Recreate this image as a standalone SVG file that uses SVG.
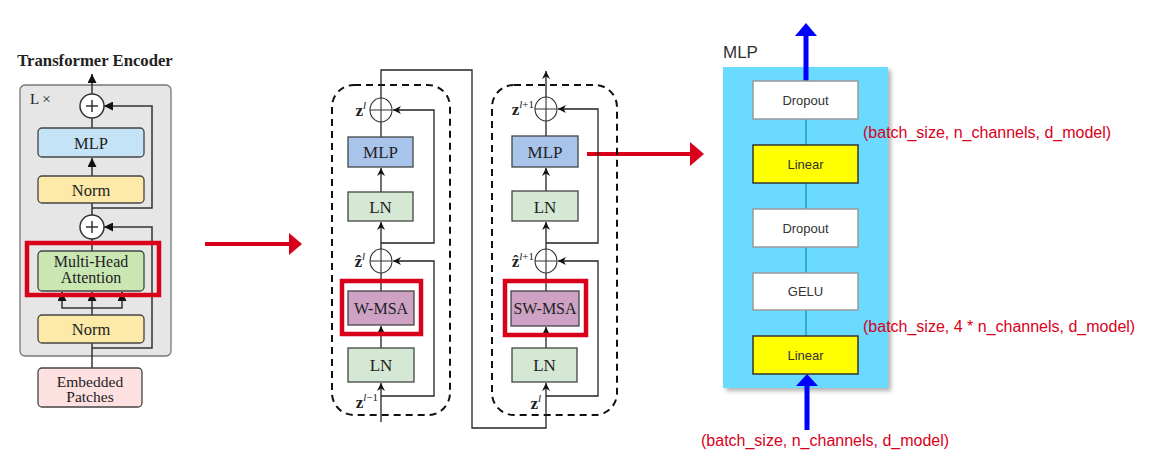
<svg xmlns="http://www.w3.org/2000/svg" width="1154" height="468" viewBox="0 0 1154 468">
<style>
.serif{font-family:"Liberation Serif","Times New Roman",serif;fill:#222}
.sans{font-family:"Liberation Sans",Arial,sans-serif}
.ln{stroke:#333;stroke-width:1.5;fill:none}
.lnm{stroke:#222;stroke-width:1.3;fill:none}
.box{stroke:#444;stroke-width:1.3}
.red{stroke:#d9001b;stroke-width:4.5;fill:none}
.plus{fill:#fff;stroke:#333;stroke-width:1.5}
.oplus{fill:none;stroke:#333;stroke-width:1.1}
.lbl{font-family:"Liberation Serif","Times New Roman",serif;font-weight:bold;font-size:17px;fill:#222}
.sup{font-weight:normal;font-size:11px}
.mb{stroke:#999;stroke-width:1.5;fill:#fff}
.my{stroke:#333;stroke-width:1.5;fill:#ffff00}
.mt{font-family:"Liberation Sans",Arial,sans-serif;font-size:13px;fill:#333;text-anchor:middle}
.rt{font-family:"Liberation Sans",Arial,sans-serif;font-size:16px;fill:#d9001b}
</style>
<defs>
<marker id="ah" viewBox="0 0 10 10" refX="10" refY="5" markerWidth="8" markerHeight="8" markerUnits="userSpaceOnUse" orient="auto">
<path d="M0,0 L10,5 L0,10 L3,5 Z" fill="#111"/>
</marker>
<marker id="ahr" viewBox="0 0 10 10" refX="10" refY="5" markerWidth="9" markerHeight="9" markerUnits="userSpaceOnUse" orient="auto">
<path d="M0,0 L10,5 L0,10 Z" fill="#111"/>
</marker>
<filter id="sh" x="-5%" y="-5%" width="115%" height="115%">
<feDropShadow dx="3" dy="3" stdDeviation="2" flood-color="#000" flood-opacity="0.3"/>
</filter>
</defs>

<!-- LEFT PANEL: Transformer Encoder -->
<g id="encoder">
<text class="serif" x="95" y="66" font-size="16.700" font-weight="bold" text-anchor="middle">Transformer Encoder</text>
<rect x="20" y="85" width="151" height="271" rx="5" fill="#e6e6e6" stroke="#777" stroke-width="1.3"/>
<text class="serif" x="30" y="104" font-size="15">L ×</text>
</g>
<g id="enc-connectors">
<line class="ln" x1="92" y1="94" x2="92" y2="74" marker-end="url(#ahr)"/>
<path class="ln" d="M92,208 H152 V106 H104" marker-end="url(#ahr)"/>
<path class="ln" d="M92,348 H152 V227 H104" marker-end="url(#ahr)"/>
<line class="ln" x1="92" y1="118" x2="92" y2="128"/>
<line class="ln" x1="92" y1="176" x2="92" y2="158" marker-end="url(#ahr)"/>
<line class="ln" x1="92" y1="203" x2="92" y2="215"/>
<line class="ln" x1="92" y1="239" x2="92" y2="251"/>
<line class="ln" x1="92" y1="315" x2="92" y2="292" marker-end="url(#ahr)"/>
<path class="ln" d="M62,292 V308 H122 V292"/>
<line class="ln" x1="62" y1="300" x2="62" y2="292" marker-end="url(#ahr)"/>
<line class="ln" x1="122" y1="300" x2="122" y2="292" marker-end="url(#ahr)"/>
<line class="ln" x1="92" y1="343" x2="92" y2="368"/>
</g>
<g id="enc-plus1">
<circle class="plus" cx="92" cy="106" r="12"/>
<path class="ln" d="M86,106 H98 M92,100 V112"/>
</g>
<g id="enc-mlp">
<rect class="box" x="38" y="128" width="106" height="29" rx="4" fill="#c5e3f6"/>
<text class="serif" x="91" y="148.500" font-size="16.500" text-anchor="middle">MLP</text>
</g>
<g id="enc-norm1">
<rect class="box" x="38" y="176" width="106" height="27" rx="4" fill="#fde9a8"/>
<text class="serif" x="91" y="195.500" font-size="16.500" text-anchor="middle">Norm</text>
</g>
<g id="enc-plus2">
<circle class="plus" cx="92" cy="227" r="12"/>
<path class="ln" d="M86,227 H98 M92,221 V233"/>
</g>
<g id="enc-mha">
<rect class="box" x="38" y="251" width="106" height="40" rx="4" fill="#c9e6b3"/>
<text class="serif" x="91" y="267" font-size="16" text-anchor="middle">Multi-Head</text>
<text class="serif" x="91" y="283" font-size="16" text-anchor="middle">Attention</text>
<rect class="red" x="27" y="243" width="132" height="52"/>
</g>
<g id="enc-norm2">
<rect class="box" x="38" y="315" width="106" height="28" rx="4" fill="#fde9a8"/>
<text class="serif" x="91" y="335" font-size="16.500" text-anchor="middle">Norm</text>
</g>
<g id="enc-embed">
<rect class="box" x="38" y="368" width="104" height="39" rx="4" fill="#fde0e0" stroke="#777"/>
<text class="serif" x="90" y="387" font-size="15.500" text-anchor="middle">Embedded</text>
<text class="serif" x="90" y="402" font-size="15.500" text-anchor="middle">Patches</text>
</g>

<!-- red arrows -->
<g id="red-arrows">
<line x1="205" y1="244" x2="291" y2="244" stroke="#d9001b" stroke-width="4"/>
<path d="M289,233 L302,244 L289,255 Z" fill="#d9001b"/>
<line x1="587" y1="154" x2="692" y2="154" stroke="#d9001b" stroke-width="4"/>
<path d="M690,142 L704,154 L690,166 Z" fill="#d9001b"/>
</g>

<!-- MIDDLE PANEL: Swin blocks -->
<g id="swin-block1">
<rect x="332" y="85" width="118" height="330" rx="22" fill="none" stroke="#111" stroke-width="2" stroke-dasharray="7,5"/>
</g>
<g id="swin-block2">
<rect x="492" y="85" width="125" height="330" rx="22" fill="none" stroke="#111" stroke-width="2" stroke-dasharray="7,5"/>
</g>
<g id="swin-connectors">
<path class="lnm" d="M381,98 V70 H472 V428 H546 V383" marker-end="url(#ah)"/>
<path class="lnm" d="M381,422 V383" marker-end="url(#ah)"/>
<path class="lnm" d="M381,396 H434 V261 H393" marker-end="url(#ah)"/>
<line class="lnm" x1="381" y1="348" x2="381" y2="326" marker-end="url(#ah)"/>
<line class="lnm" x1="381" y1="291" x2="381" y2="273"/>
<line class="lnm" x1="381" y1="249" x2="381" y2="222" marker-end="url(#ah)"/>
<path class="lnm" d="M381,243 H434 V110 H393" marker-end="url(#ah)"/>
<line class="lnm" x1="381" y1="192" x2="381" y2="168" marker-end="url(#ah)"/>
<line class="lnm" x1="381" y1="137" x2="381" y2="122"/>
<path class="lnm" d="M546,396 H598 V261 H558" marker-end="url(#ah)"/>
<line class="lnm" x1="546" y1="348" x2="546" y2="327" marker-end="url(#ah)"/>
<line class="lnm" x1="546" y1="291" x2="546" y2="273"/>
<line class="lnm" x1="546" y1="249" x2="546" y2="222" marker-end="url(#ah)"/>
<path class="lnm" d="M546,243 H598 V109 H558" marker-end="url(#ah)"/>
<line class="lnm" x1="546" y1="191" x2="546" y2="168" marker-end="url(#ah)"/>
<line class="lnm" x1="546" y1="136" x2="546" y2="121"/>
<line class="lnm" x1="546" y1="97" x2="546" y2="71" marker-end="url(#ah)"/>
</g>
<g id="b1-plus-top">
<ellipse class="oplus" cx="381" cy="110" rx="11" ry="12"/>
<path class="oplus" d="M370,110 H392 M381,98 V122"/>
<text class="lbl" x="366" y="116" text-anchor="end">z<tspan class="sup" font-style="italic" dy="-7">l</tspan></text>
</g>
<g id="b1-mlp">
<rect class="box" x="348" y="137" width="65" height="30" fill="#a9c4eb"/>
<text class="serif" x="380.500" y="158" font-size="17" text-anchor="middle">MLP</text>
</g>
<g id="b1-ln1">
<rect class="box" x="348" y="192" width="65" height="29" fill="#d5e8d4" stroke="#666"/>
<text class="serif" x="380.500" y="212.500" font-size="17" text-anchor="middle">LN</text>
</g>
<g id="b1-plus-mid">
<ellipse class="oplus" cx="381" cy="261" rx="11" ry="12"/>
<path class="oplus" d="M370,261 H392 M381,249 V273"/>
<text class="lbl" x="365" y="267" text-anchor="end">ẑ<tspan class="sup" font-style="italic" dy="-7">l</tspan></text>
</g>
<g id="b1-wmsa">
<rect class="box" x="348" y="291" width="66" height="34" fill="#cda2c4"/>
<text class="serif" x="381" y="314" font-size="16" text-anchor="middle">W-MSA</text>
<rect class="red" x="342" y="281" width="79" height="53"/>
</g>
<g id="b1-ln2">
<rect class="box" x="348" y="348" width="66" height="34" fill="#d5e8d4" stroke="#666"/>
<text class="serif" x="381" y="371" font-size="17" text-anchor="middle">LN</text>
<text class="lbl" x="378" y="408" text-anchor="end">z<tspan class="sup" dy="-7"><tspan font-style="italic">l</tspan>−1</tspan></text>
</g>
<g id="b2-plus-top">
<ellipse class="oplus" cx="546" cy="109" rx="11" ry="12"/>
<path class="oplus" d="M535,109 H557 M546,97 V121"/>
<text class="lbl" x="534" y="115" text-anchor="end">z<tspan class="sup" dy="-7"><tspan font-style="italic">l</tspan>+1</tspan></text>
</g>
<g id="b2-mlp">
<rect class="box" x="512" y="136" width="66" height="31" fill="#a9c4eb"/>
<text class="serif" x="545" y="158" font-size="17" text-anchor="middle">MLP</text>
</g>
<g id="b2-ln1">
<rect class="box" x="512" y="191" width="66" height="30" fill="#d5e8d4" stroke="#666"/>
<text class="serif" x="545" y="212.500" font-size="17" text-anchor="middle">LN</text>
</g>
<g id="b2-plus-mid">
<ellipse class="oplus" cx="546" cy="261" rx="11" ry="12"/>
<path class="oplus" d="M535,261 H557 M546,249 V273"/>
<text class="lbl" x="534" y="267" text-anchor="end">ẑ<tspan class="sup" dy="-7"><tspan font-style="italic">l</tspan>+1</tspan></text>
</g>
<g id="b2-swmsa">
<rect class="box" x="511" y="291" width="68" height="35" fill="#cda2c4"/>
<text class="serif" x="545" y="314" font-size="16" text-anchor="middle">SW-MSA</text>
<rect class="red" x="505" y="281" width="81" height="54"/>
</g>
<g id="b2-ln2">
<rect class="box" x="512" y="348" width="65" height="34" fill="#d5e8d4" stroke="#666"/>
<text class="serif" x="544.500" y="371" font-size="17" text-anchor="middle">LN</text>
<text class="lbl" x="541" y="409" text-anchor="end">z<tspan class="sup" font-style="italic" dy="-7">l</tspan></text>
</g>

<!-- RIGHT PANEL: MLP detail -->
<g id="mlp-panel">
<text class="sans" x="723" y="58" font-size="17" fill="#333">MLP</text>
<rect x="723" y="67" width="165" height="321" fill="#6bdafe" filter="url(#sh)"/>
</g>
<g id="mlp-connectors">
<line x1="806" y1="119" x2="806" y2="145" stroke="#1a9ccc" stroke-width="1.5"/>
<line x1="806" y1="183" x2="806" y2="209" stroke="#1a9ccc" stroke-width="1.5"/>
<line x1="806" y1="247" x2="806" y2="273" stroke="#1a9ccc" stroke-width="1.5"/>
<line x1="806" y1="310" x2="806" y2="336" stroke="#1a9ccc" stroke-width="1.5"/>
<line x1="806" y1="81" x2="806" y2="34" stroke="#0000ff" stroke-width="5"/>
<path d="M795,36 L806,23 L817,36 Z" fill="#0000ff"/>
<line x1="807" y1="430" x2="807" y2="384" stroke="#0000ff" stroke-width="5"/>
<path d="M796,386 L807,374 L818,386 Z" fill="#0000ff"/>
</g>
<g id="mlp-dropout1">
<rect class="mb" x="753" y="81" width="105" height="38"/>
<text class="mt" x="805.500" y="105">Dropout</text>
</g>
<g id="mlp-linear1">
<rect class="my" x="753" y="145" width="105" height="38"/>
<text class="mt" x="805.500" y="169">Linear</text>
</g>
<g id="mlp-dropout2">
<rect class="mb" x="753" y="209" width="105" height="38"/>
<text class="mt" x="805.500" y="233">Dropout</text>
</g>
<g id="mlp-gelu">
<rect class="mb" x="753" y="273" width="105" height="37"/>
<text class="mt" x="805.500" y="296">GELU</text>
</g>
<g id="mlp-linear2">
<rect class="my" x="753" y="336" width="105" height="38"/>
<text class="mt" x="805.500" y="360">Linear</text>
</g>
<g id="shape-labels">
<text class="rt" x="863" y="138">(batch_size, n_channels, d_model)</text>
<text class="rt" x="863" y="332">(batch_size, 4 * n_channels, d_model)</text>
<text class="rt" x="701" y="446">(batch_size, n_channels, d_model)</text>
</g>
</svg>
